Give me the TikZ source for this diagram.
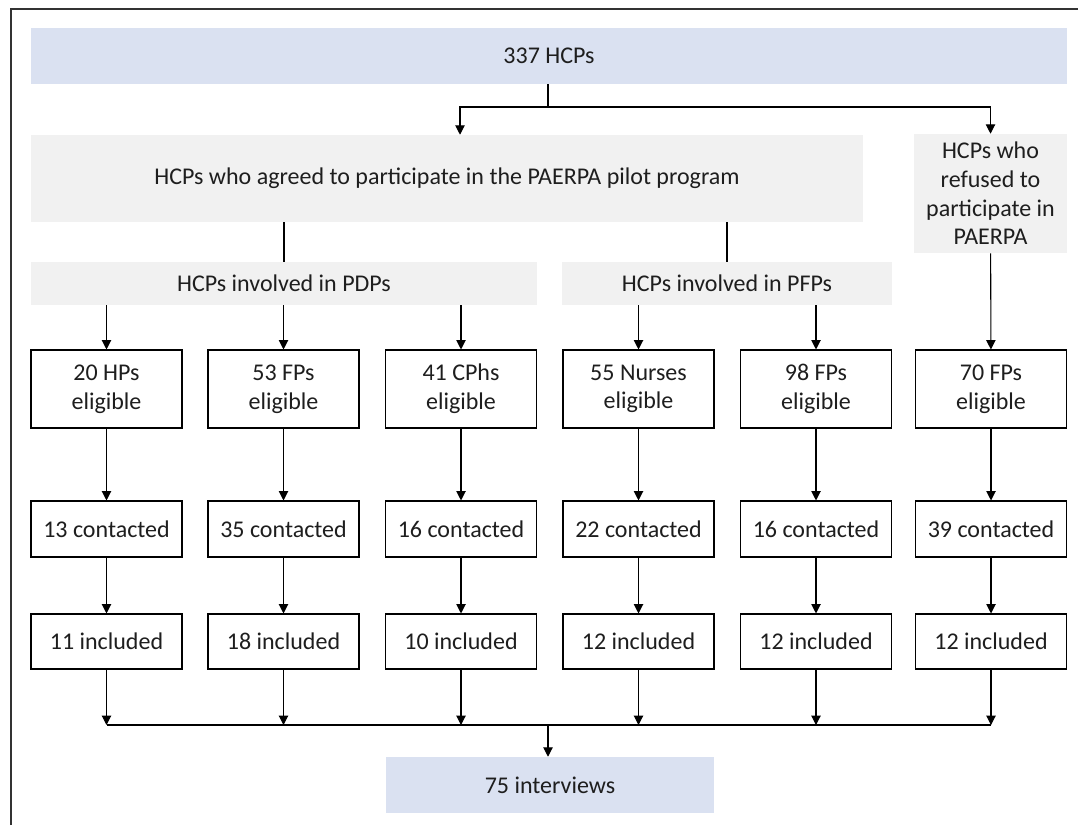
\documentclass[tikz,border=0pt]{standalone}
\usepackage{fontspec}
\setmainfont{Carlito}
\usetikzlibrary{arrows.meta}
\definecolor{blueFill}{HTML}{DAE1F1}
\definecolor{grayFill}{HTML}{F1F1F1}
\definecolor{txt}{HTML}{1E1E1E}
\begin{document}
\begin{tikzpicture}[x=0.75pt,y=-0.75pt,
  every node/.style={font=\fontsize{18}{21.5}\selectfont, text=txt, align=center, inner sep=0pt},
  bluebox/.style={fill=blueFill, draw=none},
  graybox/.style={fill=grayFill, draw=none},
  whitebox/.style={fill=white, draw=black, line width=0.8pt},
  conn/.style={draw=black, line width=0.8pt},
  arr/.style={conn, -{Triangle[width=7pt,length=7pt]}}]
\useasboundingbox (0,0) rectangle (1078,825);
\fill[white] (0,0) rectangle (1078,825);
\draw[line width=1.2pt, color=black!80] (11,825) -- (11,9) -- (1078,9);
% top
\node[bluebox, minimum width=1036*0.75pt, minimum height=56*0.75pt] (top) at (549,56) {337 HCPs};
\node[graybox, minimum width=832*0.75pt, minimum height=87*0.75pt] (agree) at (447,178.5) {HCPs who agreed to participate in the PAERPA pilot program};
\node[graybox, minimum width=153*0.75pt, minimum height=119*0.75pt] (refuse) at (990.5,193.5) {HCPs who\\refused to\\participate in\\PAERPA};
\node[graybox, minimum width=506*0.75pt, minimum height=43*0.75pt] (pdp) at (284,283.5) {HCPs involved in PDPs};
\node[graybox, minimum width=330*0.75pt, minimum height=43*0.75pt] (pfp) at (727,283.5) {HCPs involved in PFPs};
% columns
\foreach \i/\x/\e/\c/\n in {1/106.5/20 HPs/13/11, 2/283.5/53 FPs/35/18, 3/461/41 CPhs/16/10, 4/638.5/55 Nurses/22/12, 5/816/98 FPs/16/12, 6/991/70 FPs/39/12}{
  \node[whitebox, minimum width=151*0.75pt, minimum height=78*0.75pt] (e\i) at (\x,389) {\e\\eligible};
  \node[whitebox, minimum width=151*0.75pt, minimum height=56*0.75pt] (c\i) at (\x,529) {\c{} contacted};
  \node[whitebox, minimum width=151*0.75pt, minimum height=55*0.75pt] (n\i) at (\x,641.5) {\n{} included};
  \draw[arr] (e\i) -- (c\i);
  \draw[arr] (c\i) -- (n\i);
  \coordinate (j\i) at (\x,725);
  \draw[arr] (n\i) -- (j\i);
}
\node[bluebox, minimum width=328*0.75pt, minimum height=56*0.75pt] (int) at (550,785) {75 interviews};
% top connectors
\coordinate (s0) at (548,107);
\draw[conn] (top.south -| s0) -- (s0);
\draw[arr] (s0) -| (agree.north -| 460,0);
\draw[arr] (s0) -| (refuse.north);
\draw[conn] (agree.south -| 284,0) -- (pdp.north);
\draw[conn] (agree.south -| 727,0) -- (pfp.north);
\draw[arr] (pdp.south -| e1) -- (e1);
\draw[arr] (pdp.south -| e2) -- (e2);
\draw[arr] (pdp.south -| e3) -- (e3);
\draw[arr] (pfp.south -| e4) -- (e4);
\draw[arr] (pfp.south -| e5) -- (e5);
\draw[arr] (refuse) -- (e6);
% bottom
\draw[conn] (j1) -- (j6);
\coordinate (m0) at (548,725);
\draw[arr] (m0) -- (int.north -| m0);
\end{tikzpicture}
\end{document}
